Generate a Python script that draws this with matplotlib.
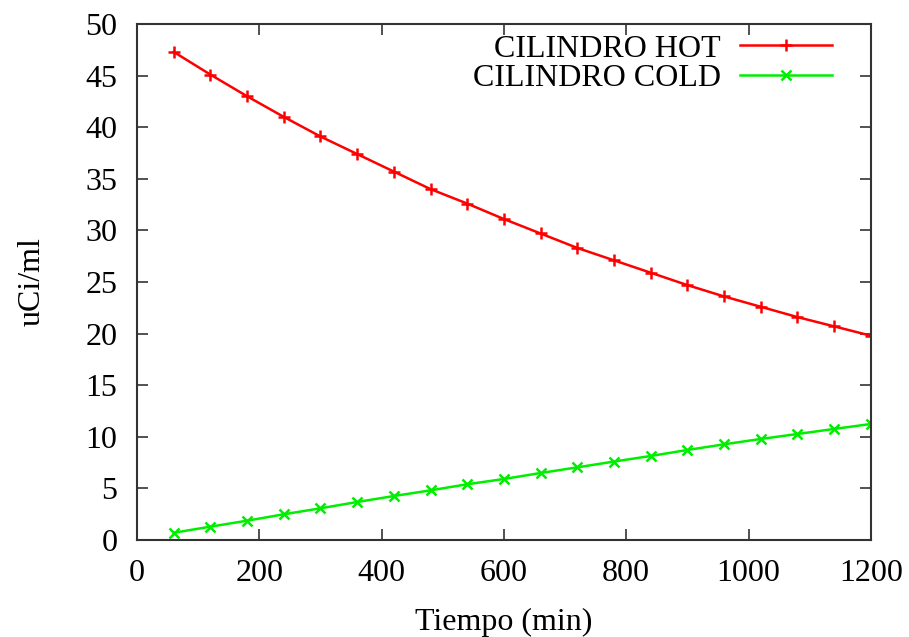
import numpy as np
import matplotlib.pyplot as plt

plt.rcParams['font.family'] = ['Liberation Serif', 'DejaVu Serif']

tiempo = [60, 120, 180, 240, 300, 360, 420, 480, 540, 600,
          660, 720, 780, 840, 900, 960, 1020, 1080, 1140, 1200]
hot = [47.3, 45.1, 43.0, 41.0, 39.1, 37.4, 35.7, 34.0, 32.6, 31.1,
       29.7, 28.3, 27.1, 25.9, 24.7, 23.6, 22.6, 21.6, 20.7, 19.8]
cold = [0.7, 1.29, 1.87, 2.49, 3.07, 3.68, 4.26, 4.81, 5.4, 5.91,
        6.49, 7.04, 7.6, 8.14, 8.72, 9.27, 9.79, 10.27, 10.76, 11.24]

fig = plt.figure(figsize=(9.09, 6.37), dpi=100)
ax = fig.add_axes([0.1507, 0.1523, 0.8073, 0.81])

ax.plot(tiempo, hot, color='#ff0000', lw=1.8, marker='+', ms=9, mew=1.8,
        label='CILINDRO HOT')
ax.plot(tiempo, cold, color='#00ee00', lw=1.8, marker='x', ms=7, mew=1.8,
        label='CILINDRO COLD')

ax.set_xlim(0, 1200)
ax.set_ylim(0, 50)
ax.set_xticks(np.arange(0, 1201, 200))
ax.set_yticks(np.arange(0, 51, 5))
ax.tick_params(direction='in', length=8, width=1.2, top=True, right=True,
               labelsize=23, colors='#333333', labelcolor='black')
ax.tick_params(axis='x', pad=14)
ax.tick_params(axis='y', pad=14)
for s in ax.spines.values():
    s.set_color('#333333')
    s.set_linewidth(1.5)

ax.set_xlabel('Tiempo (min)', fontsize=23, labelpad=14)
ax.set_ylabel('uCi/ml', fontsize=23, labelpad=28)

ax.legend(loc='upper right', frameon=False, markerfirst=False, fontsize=23,
          handlelength=2.9, handletextpad=0.6, borderaxespad=0.0,
          labelspacing=0.0, bbox_to_anchor=(0.965, 1.005))

fig.savefig('out.png', dpi=100)
